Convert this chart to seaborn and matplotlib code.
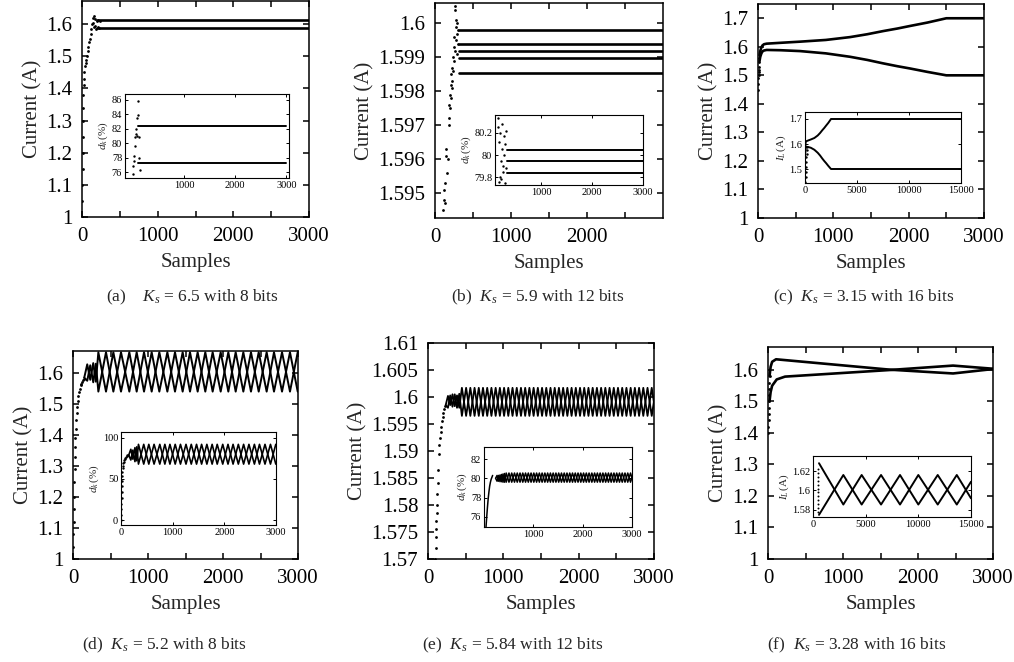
import matplotlib
matplotlib.use("Agg")
import matplotlib.pyplot as plt
import seaborn as sns

sns.set_theme(style="ticks")
plt.rcParams["font.family"] = ["Liberation Serif", "DejaVu Serif"]
plt.rcParams["mathtext.fontset"] = "custom"
plt.rcParams["mathtext.rm"] = "Liberation Serif"
plt.rcParams["mathtext.it"] = "Liberation Serif:italic"
plt.rcParams["axes.edgecolor"] = "black"

# ---------------- data ----------------
# (a) Ks = 6.5, 8 bits
a_rise_x = [3, 5, 6, 8, 9, 11, 13, 15, 18, 22, 27, 33, 40, 48, 56, 65, 75, 85, 95, 105,
            115, 125, 133, 140, 148, 155, 162, 170, 178, 186, 195, 205, 215, 228, 240]
a_rise_y = [1.00, 1.05, 1.10, 1.15, 1.20, 1.25, 1.30, 1.34, 1.38, 1.41, 1.43, 1.45, 1.47, 1.48,
            1.49, 1.50, 1.515, 1.53, 1.545, 1.555, 1.57, 1.585, 1.60, 1.62, 1.605, 1.59, 1.625,
            1.595, 1.615, 1.585, 1.61, 1.592, 1.613, 1.588, 1.61]
a_steady_x = [200, 3000]
a_levels = [1.6124, 1.5876]
ai_dot_x = [0, 10, 20, 30, 40, 50, 60, 70, 80, 90, 100, 110, 120, 130, 140]
ai_dot_y = [75.8, 76.9, 78.2, 77.5, 79.6, 80.8, 81.3, 82.0, 83.5, 81.0, 85.9, 83.9, 80.8, 78.0, 76.3]
ai_steady_x = [110, 3000]
ai_levels = [82.4, 77.3]

# (b) Ks = 5.9, 12 bits
b_dot_x = [110, 115, 120, 125, 130, 140, 150, 160, 170, 178, 185, 190, 195, 200, 205, 210, 215, 220,
           225, 230, 235, 240, 245, 250, 255, 258, 262, 266, 270, 275, 280, 285, 290, 295, 300, 305]
b_dot_y = [1.5945, 1.5948, 1.5951, 1.5947, 1.5953, 1.5963, 1.5961, 1.5956, 1.5960, 1.5970,
           1.5972, 1.5976, 1.5979, 1.5975, 1.5982, 1.5978, 1.5985, 1.5981, 1.5987, 1.5983,
           1.5990, 1.5986, 1.5993, 1.5989, 1.5996, 1.6004, 1.5992, 1.6005, 1.5999, 1.6001,
           1.5995, 1.5997, 1.6000, 1.5991, 1.5998, 1.5994]
b_steady_x = [310, 3000]
b_levels = [1.59980, 1.59938, 1.59918, 1.59897, 1.59854]
bi_dot_x = [150, 160, 170, 180, 190, 200, 210, 220, 230, 240, 250, 260, 270, 280, 290, 300, 310, 320]
bi_dot_y = [80.33, 80.25, 79.76, 80.12, 79.80, 80.20, 79.95, 79.78, 80.05, 80.28, 79.90, 79.85,
            80.17, 80.00, 79.75, 80.10, 80.22, 79.88]
bi_steady_x = [330, 3000]
bi_levels = [80.045, 79.945, 79.84]

# (c) Ks = 3.15, 16 bits
c_x = [20, 30, 45, 60, 80, 115, 300, 558, 900, 1222, 1450, 1660, 1850, 2018, 2250, 2500, 3000]
c_upper = [1.57, 1.585, 1.598, 1.605, 1.609, 1.611, 1.614, 1.618, 1.624, 1.634, 1.644, 1.655,
           1.664, 1.673, 1.685, 1.700, 1.700]
c_lower = [1.55, 1.565, 1.577, 1.584, 1.587, 1.589, 1.588, 1.585, 1.577, 1.565, 1.554, 1.542,
           1.532, 1.524, 1.512, 1.500, 1.500]
c_dot_x = [2, 4, 6, 8, 10, 12, 14, 16, 18]
c_dot_y = [1.45, 1.47, 1.49, 1.50, 1.51, 1.52, 1.53, 1.545, 1.56]
ci_end_x = 15000
ci_dot_x = [40, 60, 80, 100, 120, 140, 160, 180, 200]
ci_dot_y = [1.45, 1.47, 1.49, 1.51, 1.53, 1.55, 1.56, 1.575, 1.59]

# (d) Ks = 5.2, 8 bits
d_rise_x = [2, 4, 6, 8, 10, 13, 16, 20, 24, 28, 33, 38, 44, 50, 57, 64, 72, 80, 90, 100,
            110, 120, 130, 140]
d_rise_y = [1.00, 1.04, 1.08, 1.12, 1.16, 1.20, 1.25, 1.29, 1.33, 1.36, 1.39, 1.42, 1.45, 1.47,
            1.49, 1.51, 1.525, 1.54, 1.55, 1.56, 1.565, 1.57, 1.578, 1.582]
d_pre_x = [150, 190, 230, 270, 305]
d_pre_a = [1.585, 1.628, 1.578, 1.632, 1.572]
d_pre_b = [1.585, 1.575, 1.625, 1.570, 1.630]
d_turn_x = [338, 440, 538, 640, 751, 849, 947, 1049, 1151, 1258, 1360, 1462, 1560, 1662,
            1764, 1862, 1969, 2071, 2169, 2271, 2373, 2476, 2582, 2680, 2787, 2893, 2996]
d_hi, d_lo = 1.667, 1.540
di_rise_x = [3, 5, 7, 9, 11, 13, 15, 18, 21, 25, 30, 36, 43, 50, 60, 70, 80, 95, 110, 125, 140]
di_rise_y = [0, 6, 13, 20, 27, 34, 41, 48, 54, 59, 63, 66, 69, 71, 73, 74.5, 76, 77, 78, 78.5, 79]
di_pre_a = [79, 86, 74, 88, 72]
di_pre_b = [79, 73, 85, 71, 89]
di_hi, di_lo = 92, 68

# (e) Ks = 5.84, 12 bits
e_rise_x = [95, 100, 104, 108, 112, 116, 120, 125, 130, 136, 142, 150, 158, 166, 175, 185,
            195, 205, 215, 225]
e_rise_y = [1.5700, 1.5720, 1.5740, 1.5755, 1.5770, 1.5785, 1.5800, 1.5820, 1.5840, 1.5865,
            1.5895, 1.5912, 1.5925, 1.5935, 1.5945, 1.5955, 1.5963, 1.5970, 1.5977, 1.5983]
e_pre_x = [235, 265, 295, 325, 355, 385, 415]
e_pre_a = [1.5985, 1.6002, 1.5985, 1.6005, 1.5983, 1.6003, 1.5980]
e_pre_b = [1.5985, 1.5980, 1.6003, 1.5982, 1.6005, 1.5980, 1.6006]
e_turn_x = [450, 506, 562, 618, 674, 730, 786, 842, 898, 954, 1010, 1066, 1122, 1178, 1234,
            1290, 1346, 1402, 1458, 1514, 1570, 1626, 1682, 1738, 1794, 1850, 1906, 1962,
            2018, 2074, 2130, 2186, 2242, 2298, 2354, 2410, 2466, 2522, 2578, 2634, 2690,
            2746, 2802, 2858, 2914, 2970, 3026]
e_hi, e_lo = 1.6017, 1.5965
ei_rise_x = [40, 55, 70, 85, 100, 115, 130, 145, 160, 175]
ei_rise_y = [74.9, 76.0, 77.0, 77.9, 78.6, 79.2, 79.6, 79.9, 80.1, 80.3]
ei_pre_a = [80.0, 80.3, 79.7, 80.35, 79.65, 80.45, 79.6]
ei_pre_b = [80.0, 79.7, 80.3, 79.65, 80.4, 79.6, 80.5]
ei_hi, ei_lo = 80.55, 79.6

# (f) Ks = 3.28, 16 bits
f_dot_x = [3, 5, 7, 9, 11, 13, 15, 17, 19, 21]
f_dot_y = [1.40, 1.42, 1.44, 1.46, 1.48, 1.50, 1.52, 1.54, 1.56, 1.58]
f_a_x = [20, 35, 55, 107, 1627, 2467, 3000]
f_a_y = [1.58, 1.61, 1.626, 1.634, 1.601, 1.589, 1.603]
f_b_x = [20, 35, 55, 116, 227, 1627, 2467, 3000]
f_b_y = [1.50, 1.53, 1.550, 1.570, 1.579, 1.600, 1.614, 1.604]
fi_x = [570, 2880, 4620, 6460, 8260, 10000, 11840, 13650, 15000]
fi_a = [1.628, 1.5856, 1.6159, 1.5856, 1.6159, 1.5856, 1.6159, 1.5856, 1.609]
fi_b = [1.575, 1.6159, 1.5856, 1.6159, 1.5856, 1.6159, 1.5856, 1.6159, 1.592]
fi_dot_x = [500, 500, 500, 500, 500, 500, 500, 500, 500, 500, 500, 500]
fi_dot_y = [1.578, 1.582, 1.586, 1.590, 1.594, 1.598, 1.602, 1.606, 1.610, 1.614, 1.618, 1.622]

captions = [r"(a)    $K_s$ = 6.5 with 8 bits", r"(b)  $K_s$ = 5.9 with 12 bits",
            r"(c)  $K_s$ = 3.15 with 16 bits", r"(d)  $K_s$ = 5.2 with 8 bits",
            r"(e)  $K_s$ = 5.84 with 12 bits", r"(f)  $K_s$ = 3.28 with 16 bits"]

# ---------------- helpers ----------------
W, H = 1014, 662


def px_box(l, t, r, b):
    return [l / W, 1 - b / H, (r - l) / W, (b - t) / H]


def line(ax, x, y, lw):
    sns.lineplot(x=x, y=y, ax=ax, color="black", lw=lw, sort=False,
                 estimator=None, legend=False)


def dots(ax, x, y, s=4):
    sns.scatterplot(x=x, y=y, ax=ax, color="black", s=s, linewidth=0, legend=False)


def alternate(first, second, n):
    return ([first, second] * n)[:n]


def style_main(ax, ylim, yticks, xticks=(0, 1000, 2000, 3000), xlim=(0, 3000)):
    ax.set_xlim(*xlim)
    ax.set_ylim(*ylim)
    ax.set_xticks(list(xticks))
    ax.set_xticks([500, 1500, 2500], minor=True)
    ax.set_yticks(yticks)
    ax.set_yticklabels(["%g" % v for v in yticks])
    ax.set_xticklabels(["%g" % v for v in xticks])
    ax.tick_params(which="both", direction="in", top=True, right=True, length=4,
                   width=1.1, labelsize=15, pad=7, colors="black")
    ax.set_xlabel("Samples", fontsize=15, labelpad=5)
    ax.set_ylabel("Current (A)", fontsize=15, labelpad=3)
    for s in ax.spines.values():
        s.set_linewidth(1.1)
        s.set_color("black")


def style_inset(ax, xlim, ylim, xticks, yticks, ylabel):
    ax.set_xlim(*xlim)
    ax.set_ylim(*ylim)
    ax.set_xticks(xticks)
    ax.set_yticks(yticks)
    ax.set_xticklabels(["%g" % v for v in xticks])
    ax.set_yticklabels(["%g" % v for v in yticks])
    ax.tick_params(which="both", direction="in", top=True, right=True, length=2,
                   width=0.7, labelsize=7.5, pad=2, colors="black")
    ax.set_xlabel("")
    ax.set_ylabel(ylabel, fontsize=8, labelpad=1)
    ax.set_facecolor("white")
    for s in ax.spines.values():
        s.set_linewidth(0.8)
        s.set_color("black")


fig = plt.figure(figsize=(W / 100, H / 100), dpi=100)
LW, ILW = 1.9, 1.4

# (a)
ax = fig.add_axes(px_box(82, 1, 309, 217))
dots(ax, a_rise_x, a_rise_y)
for lev in a_levels:
    line(ax, a_steady_x, [lev, lev], LW)
style_main(ax, (1, 1.672), [1, 1.1, 1.2, 1.3, 1.4, 1.5, 1.6])
ins = fig.add_axes(px_box(125, 94, 289, 178))
dots(ins, ai_dot_x, ai_dot_y, 3)
for lev in ai_levels:
    line(ins, ai_steady_x, [lev, lev], ILW)
style_inset(ins, (-150, 3050), (75.2, 86.8), [1000, 2000, 3000], [76, 78, 80, 82, 84, 86],
            r"$d_k\,(\%)$")

# (b)
ax = fig.add_axes(px_box(435, 3, 663, 218))
dots(ax, b_dot_x, b_dot_y)
for lev in b_levels:
    line(ax, b_steady_x, [lev, lev], LW)
style_main(ax, (1.59427, 1.6006), [1.595, 1.596, 1.597, 1.598, 1.599, 1.6],
           xticks=(0, 1000, 2000))
ins = fig.add_axes(px_box(495, 115, 643, 185))
dots(ins, bi_dot_x, bi_dot_y, 3)
for lev in bi_levels:
    line(ins, bi_steady_x, [lev, lev], ILW)
style_inset(ins, (100, 3000), (79.73, 80.36), [1000, 2000, 3000], [79.8, 80, 80.2],
            r"$d_k\,(\%)$")

# (c)
ax = fig.add_axes(px_box(758, 4, 984, 218))
dots(ax, c_dot_x, c_dot_y)
line(ax, c_x, c_upper, LW)
line(ax, c_x, c_lower, LW)
style_main(ax, (1, 1.75), [1, 1.1, 1.2, 1.3, 1.4, 1.5, 1.6, 1.7])
ins = fig.add_axes(px_box(805, 112, 961, 183))
dots(ins, ci_dot_x, ci_dot_y, 3)
line(ins, c_x + [ci_end_x], c_upper + [c_upper[-1]], ILW)
line(ins, c_x + [ci_end_x], c_lower + [c_lower[-1]], ILW)
style_inset(ins, (0, 15000), (1.444, 1.728), [0, 5000, 10000, 15000], [1.5, 1.6, 1.7],
            r"$I_L\,(\mathrm{A})$")

# (d)
ax = fig.add_axes(px_box(73, 351, 298, 559))
dots(ax, d_rise_x, d_rise_y)
n = len(d_turn_x)
line(ax, d_pre_x + d_turn_x, d_pre_a + alternate(d_hi, d_lo, n), 1.4)
line(ax, d_pre_x + d_turn_x, d_pre_b + alternate(d_lo, d_hi, n), 1.4)
style_main(ax, (1, 1.671), [1, 1.1, 1.2, 1.3, 1.4, 1.5, 1.6])
ins = fig.add_axes(px_box(121, 432, 276, 525))
dots(ins, di_rise_x, di_rise_y, 3)
line(ins, d_pre_x + d_turn_x, di_pre_a + alternate(di_hi, di_lo, n), 1.2)
line(ins, d_pre_x + d_turn_x, di_pre_b + alternate(di_lo, di_hi, n), 1.2)
style_inset(ins, (0, 3000), (-6, 107), [0, 1000, 2000, 3000], [0, 50, 100],
            r"$d_k\,(\%)$")

# (e)
ax = fig.add_axes(px_box(428, 343, 654, 559))
dots(ax, e_rise_x, e_rise_y)
n = len(e_turn_x)
line(ax, e_pre_x + e_turn_x, e_pre_a + alternate(e_hi, e_lo, n), 1.3)
line(ax, e_pre_x + e_turn_x, e_pre_b + alternate(e_lo, e_hi, n), 1.3)
style_main(ax, (1.57, 1.61), [1.57, 1.575, 1.58, 1.585, 1.59, 1.595, 1.6, 1.605, 1.61])
ins = fig.add_axes(px_box(484, 447, 632, 527))
line(ins, ei_rise_x, ei_rise_y, 1.1)
line(ins, e_pre_x + e_turn_x, ei_pre_a + alternate(ei_hi, ei_lo, n), 1.1)
line(ins, e_pre_x + e_turn_x, ei_pre_b + alternate(ei_lo, ei_hi, n), 1.1)
style_inset(ins, (0, 3000), (74.95, 83.25), [1000, 2000, 3000], [76, 78, 80, 82],
            r"$d_k\,(\%)$")

# (f)
ax = fig.add_axes(px_box(768, 347, 993, 559))
dots(ax, f_dot_x, f_dot_y)
line(ax, f_a_x, f_a_y, LW)
line(ax, f_b_x, f_b_y, LW)
style_main(ax, (1, 1.673), [1, 1.1, 1.2, 1.3, 1.4, 1.5, 1.6])
ins = fig.add_axes(px_box(813, 456, 971, 517))
dots(ins, fi_dot_x, fi_dot_y, 2)
line(ins, fi_x, fi_a, ILW)
line(ins, fi_x, fi_b, ILW)
style_inset(ins, (0, 15000), (1.5728, 1.6354), [0, 5000, 10000, 15000], [1.58, 1.6, 1.62],
            r"$I_L\,(\mathrm{A})$")

# captions
cap_pos = [(192, 297), (538, 297), (864, 297), (164, 645), (513, 645), (857, 645)]
for (cx, cy), txt in zip(cap_pos, captions):
    fig.text(cx / W, 1 - cy / H, txt, ha="center", va="center", fontsize=12.5)

fig.savefig("out.png", dpi=100)
